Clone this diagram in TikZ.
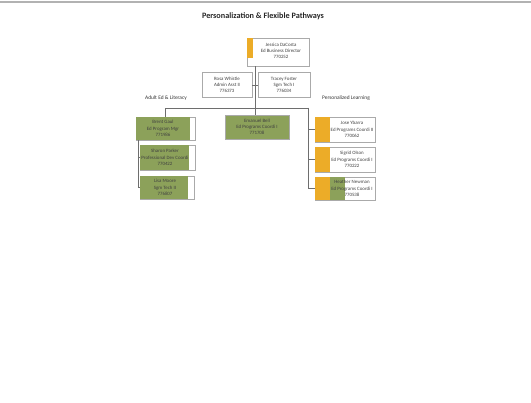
\documentclass[tikz,border=0pt]{standalone}
\usepackage{fontspec}
\setmainfont{Carlito}
\definecolor{olive}{RGB}{140,161,90}
\definecolor{amber}{RGB}{236,172,40}
\definecolor{edge}{RGB}{170,170,170}
\definecolor{wire}{RGB}{110,110,110}
\begin{document}
\begin{tikzpicture}[x=1pt,y=-1pt,
  card/.style={draw=edge,line width=0.4pt,fill=white,inner sep=0pt,align=center,
    font=\fontsize{4.9}{6.3}\selectfont,text=black!75},
  textonly/.style={card,draw=none,fill=none},
  wirestyle/.style={draw=wire,line width=0.45pt},
  grouplabel/.style={font=\fontsize{5.4}{6.4}\selectfont,text=black!80,inner sep=0pt}]
\useasboundingbox (0,0) rectangle (531,403);
\fill[black!30] (0,1.5) rectangle (531,3.5);
\node[font=\fontsize{8.2}{9}\selectfont\bfseries,text=black!85] (title) at (263,16) {Personalization \& Flexible Pathways};
% top
\node[card,minimum width=62pt,minimum height=28pt] (top) at (278,52) {};
\fill[amber] (top.north west) rectangle ++(6,20);
\node[textonly] at (281,51) {Jessica DaCosta\\Ed Business Director\\770252};
% assistants
\node[card,minimum width=50pt,minimum height=25pt] (asl) at (227,85) {Rosa Whistle\\Admin Asst II\\776373};
\node[card,minimum width=52pt,minimum height=25pt] (asr) at (284,85) {Tracey Foster\\Sgm Tech I\\776034};
% group labels
\node[grouplabel] (gl) at (166,98) {Adult Ed \& Literacy};
\node[grouplabel] (gr) at (346,98) {Personalized Learning};
% second level
\node[card,minimum width=59pt,minimum height=23pt] (lb) at (165.5,128.5) {};
\fill[olive] (lb.north west) rectangle ([xshift=-5pt]lb.south east);
\node[textonly] at (163,128.5) {Brent Gaul\\Ed Program Mgr\\771986};
\node[card,fill=olive,minimum width=64pt,minimum height=24pt] (mb) at (257,127) {Emanuel Bell\\Ed Programs Coordi I\\771708};
\node[card,minimum width=60pt,minimum height=25pt] (r1) at (345,129.5) {};
\fill[amber] (r1.north west) rectangle (330,142);
\node[textonly] at (352,129.5) {Jose Ybarra\\Ed Programs Coordi II\\770062};
% left children
\node[card,minimum width=55pt,minimum height=25pt] (l1) at (167.5,157.5) {};
\fill[olive] (l1.north west) rectangle ([xshift=-6pt]l1.south east);
\node[textonly] at (165,157.5) {Sharon Parker\\Professional Dev Coordi\\770422};
\node[card,minimum width=54pt,minimum height=23pt] (l2) at (167,187.5) {};
\fill[olive] (l2.north west) rectangle ([xshift=-6pt]l2.south east);
\node[textonly] at (165,187.5) {Lisa Moore\\Sgm Tech II\\776807};
% right children
\node[card,minimum width=60pt,minimum height=25pt] (r2) at (345,159.5) {};
\node[card,minimum width=60pt,minimum height=23pt] (r3) at (345,188.5) {};
\fill[amber] (r2.north west) rectangle (330,172);
\fill[amber] (r3.north west) rectangle (330,200);
\fill[olive] (330,177) rectangle (345,200);
\node[textonly] at (352,159.5) {Sigrid Olson\\Ed Programs Coordi I\\770222};
\node[textonly] at (352,188.5) {Heather Newman\\Ed Programs Coordi I\\770538};
% connectors
\coordinate (j) at (255,108);
\coordinate (rj) at (308,108);
\draw[wirestyle] (top.south -| j) -- (mb.north -| j);
\draw[wirestyle] (asl.east) -- (asl.east -| j);
\draw[wirestyle] (asr.west) -- (asr.west -| j);
\draw[wirestyle] (j) -| (lb.north);
\draw[wirestyle] (j) -- (rj) |- (r1.west);
\draw[wirestyle] (rj) |- (r2.west);
\draw[wirestyle] (rj) |- (r3.west);
\coordinate (lv) at ([xshift=2pt]lb.south west);
\draw[wirestyle] (lv) -- (lv |- l2.west) -- (l2.west);
\draw[wirestyle] (lv |- l1.west) -- (l1.west);
\end{tikzpicture}
\end{document}
